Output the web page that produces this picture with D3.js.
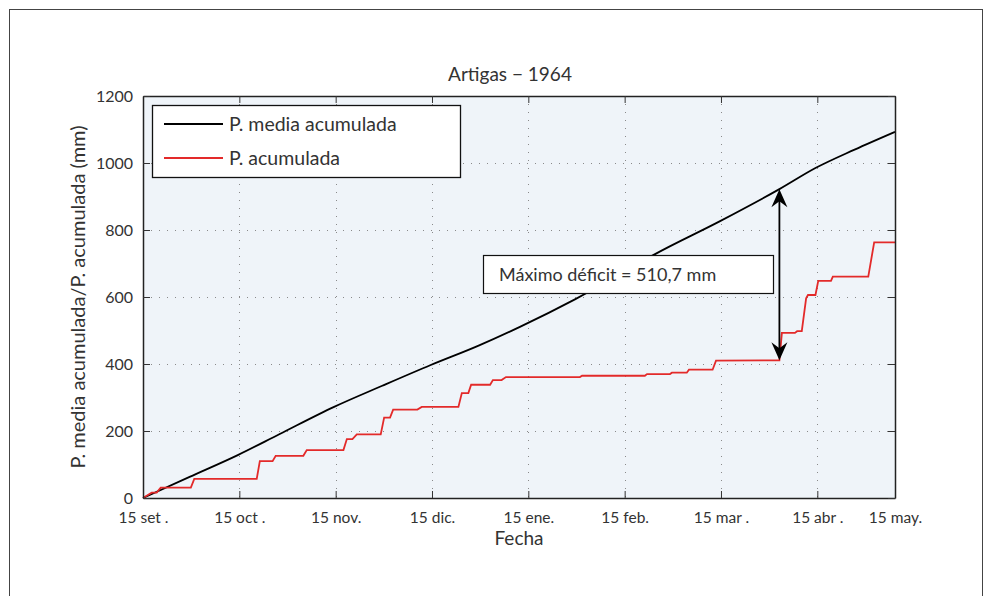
<!DOCTYPE html>
<html><head><meta charset="utf-8">
<script src="https://cdn.jsdelivr.net/npm/d3@7/dist/d3.min.js"></script>
<style>
body{margin:0;background:#fff;}
svg{display:block;font-family:Lato,"Open Sans",sans-serif;}
</style></head>
<body>
<svg id="chart" width="992" height="596"></svg>
<script>
// ---- data ----
const tickDays = [0, 31, 62, 93, 124, 155, 186, 217, 242];
const tickLabels = ["15 set .", "15 oct .", "15 nov.", "15 dic.", "15 ene.", "15 feb.", "15 mar .", "15 abr .", "15 may."];
const yTicks = [0, 200, 400, 600, 800, 1000, 1200];

const mediaDays   = [0, 15, 30.5, 44, 61.5, 77, 92.6, 108, 121.3, 139, 154, 164.2, 185.4, 204.8, 216.4, 229, 242];
const mediaValues = [0, 63, 128, 191, 272, 335, 397, 455, 511, 593, 670, 725, 825, 922, 985, 1040, 1093];

const acumDays   = [0, 2.8, 4.4, 5.7, 15.4, 16.5, 36.6, 37.6, 41.7, 42.7, 51.6, 52.7, 64.5, 65.6, 67.4, 68.8, 76.5, 77.6, 79.5, 80.5, 88.3, 89.7, 101.5, 102.6, 104.7, 105.6, 111.7, 112.6, 115.4, 116.8, 140.6, 141.3, 161.5, 162.2, 169.6, 170.2, 175, 175.7, 183.3, 184.4, 204.8, 205.6, 209.8, 210.5, 212, 213.4, 214, 216.4, 217.3, 221.4, 222, 233.4, 235.3, 242];
const acumValues = [0, 16, 16, 31, 31, 57, 57, 110, 110, 126, 126, 143, 143, 176, 176, 190, 190, 240, 240, 264, 264, 272, 272, 313, 313, 338, 338, 352, 352, 361, 361, 365, 365, 370, 370, 374, 374, 383, 383, 410, 411, 493, 493, 498, 498, 596, 606, 606, 648, 648, 661, 661, 763, 763];

const seriesNames = ["P. media acumulada", "P. acumulada"];
const titleText = "Artigas \u2212 1964";
const xTitle = "Fecha";
const yTitle = "P. media acumulada/P. acumulada (mm)";
const deficitDay = 204.8, deficitTop = 922, deficitBottom = 411;
const deficitText = "M\u00e1ximo d\u00e9ficit = 510,7 mm";

// ---- layout ----
const svg = d3.select("#chart");
const L = 143, R = 895, T = 96, B = 498;
const x = d3.scaleLinear().domain([0, 242]).range([L, R]);
const y = d3.scaleLinear().domain([0, 1200]).range([B, T]);

// outer frame
svg.append("rect").attr("x", 9.5).attr("y", 9.5).attr("width", 973).attr("height", 620)
  .attr("fill", "none").attr("stroke", "#444").attr("stroke-width", 1);

// plot background
svg.append("rect").attr("x", L).attr("y", T).attr("width", R - L).attr("height", B - T)
  .attr("fill", "#eff4f9");

// grid
const grid = svg.append("g").attr("stroke", "#8a8a8a").attr("stroke-width", 1).attr("stroke-dasharray", "1,7");
tickDays.slice(1, -1).forEach(d => grid.append("line").attr("x1", Math.round(x(d)) + 0.5).attr("x2", Math.round(x(d)) + 0.5).attr("y1", T).attr("y2", B));
yTicks.slice(1, -1).forEach(v => grid.append("line").attr("y1", Math.round(y(v)) + 0.5).attr("y2", Math.round(y(v)) + 0.5).attr("x1", L).attr("x2", R));

// lines
const smooth = d3.line().x(d => x(d[0])).y(d => y(d[1])).curve(d3.curveMonotoneX);
const line = d3.line().x(d => x(d[0])).y(d => y(d[1]));
svg.append("path").datum(mediaDays.map((d, i) => [d, mediaValues[i]]))
  .attr("d", smooth).attr("fill", "none").attr("stroke", "#000").attr("stroke-width", 1.8);
svg.append("path").datum(acumDays.map((d, i) => [d, acumValues[i]]))
  .attr("d", line).attr("fill", "none").attr("stroke", "#e32a2a").attr("stroke-width", 1.8);

// axes (box with inner ticks)
const axB = svg.append("g").attr("transform", `translate(0,${B})`)
  .call(d3.axisBottom(x).tickValues(tickDays).tickFormat((d, i) => tickLabels[i]).tickSizeInner(-7).tickSizeOuter(0).tickPadding(14));
const axT = svg.append("g").attr("transform", `translate(0,${T})`)
  .call(d3.axisTop(x).tickValues(tickDays).tickFormat("").tickSizeInner(-7).tickSizeOuter(0));
const axL = svg.append("g").attr("transform", `translate(${L},0)`)
  .call(d3.axisLeft(y).tickValues(yTicks).tickFormat(d3.format("d")).tickSizeInner(-7).tickSizeOuter(0).tickPadding(10));
const axR = svg.append("g").attr("transform", `translate(${R},0)`)
  .call(d3.axisRight(y).tickValues(yTicks).tickFormat("").tickSizeInner(-7).tickSizeOuter(0));
[axB, axT, axL, axR].forEach(a => {
  a.select(".domain").attr("stroke", "#222").attr("stroke-width", 1.5);
  a.selectAll(".tick line").attr("stroke", "#333");
  a.selectAll("text").attr("fill", "#333").style("font-family", "Lato, sans-serif");
});
axL.selectAll("text").style("font-size", "16px");
axB.selectAll("text").style("font-size", "15.5px").attr("dy", "0.71em");

// titles
svg.append("text").attr("x", (L + R) / 2 - 9).attr("y", 81).attr("text-anchor", "middle")
  .style("font-size", "19px").attr("fill", "#333").text(titleText);
svg.append("text").attr("x", (L + R) / 2).attr("y", 545).attr("text-anchor", "middle")
  .style("font-size", "19px").attr("fill", "#333").text(xTitle);
svg.append("text").attr("transform", `translate(85,${(T + B) / 2}) rotate(-90)`).attr("text-anchor", "middle")
  .style("font-size", "20px").attr("fill", "#333").text(yTitle);

// legend
const lg = svg.append("g");
lg.append("rect").attr("x", 152.5).attr("y", 105.5).attr("width", 308).attr("height", 72)
  .attr("fill", "#fff").attr("stroke", "#111").attr("stroke-width", 1.3);
[["#000", 124], ["#e32a2a", 158]].forEach((c, i) => {
  lg.append("line").attr("x1", 164).attr("x2", 223).attr("y1", c[1]).attr("y2", c[1]).attr("stroke", c[0]).attr("stroke-width", 1.8);
  lg.append("text").attr("x", 229).attr("y", c[1] + 7).style("font-size", "19.5px").attr("fill", "#333").text(seriesNames[i]);
});

// deficit arrow
const ax = x(deficitDay), yTop = y(deficitTop), yBot = y(deficitBottom);
svg.append("line").attr("x1", ax).attr("x2", ax).attr("y1", yTop + 8).attr("y2", yBot - 8)
  .attr("stroke", "#000").attr("stroke-width", 1.8);
svg.append("path").attr("d", `M${ax},${yTop} L${ax - 8},${yTop + 18} L${ax},${yTop + 12} L${ax + 8},${yTop + 18} Z`).attr("fill", "#000");
svg.append("path").attr("d", `M${ax},${yBot} L${ax - 8},${yBot - 18} L${ax},${yBot - 12} L${ax + 8},${yBot - 18} Z`).attr("fill", "#000");

// deficit box
svg.append("rect").attr("x", 483.5).attr("y", 255.5).attr("width", 290).attr("height", 38)
  .attr("fill", "#fff").attr("stroke", "#111").attr("stroke-width", 1.2);
svg.append("text").attr("x", 499).attr("y", 281).style("font-size", "18px").attr("fill", "#333").text(deficitText);
</script>
</body></html>
